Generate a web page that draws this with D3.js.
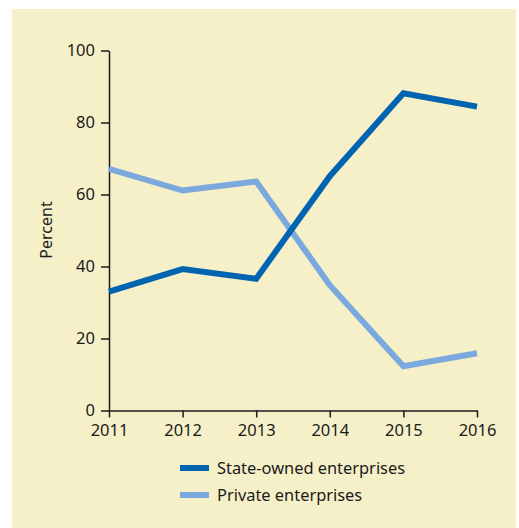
<!DOCTYPE html>
<html><head><meta charset="utf-8">
<script src="https://cdn.jsdelivr.net/npm/d3@7"></script>
<style>body{margin:0;background:#fff;}svg{display:block;}text{font-family:"Noto Sans",sans-serif;fill:#1a1a1a;}</style>
</head><body>
<script>
const years = [2011, 2012, 2013, 2014, 2015, 2016];
const stateOwned = [33.0, 39.3, 36.6, 65.1, 88.1, 84.4];
const privateEnt = [67.1, 61.1, 63.6, 34.8, 12.3, 15.9];
const yTicks = [0, 20, 40, 60, 80, 100];
const seriesNames = ["State-owned enterprises", "Private enterprises"];
const seriesColors = ["#0064b1", "#7ba8dd"];

const W = 519, H = 528;
const svg = d3.select("body").append("svg").attr("width", W).attr("height", H);
svg.append("rect").attr("x", 12).attr("y", 9).attr("width", 504).attr("height", 519).attr("fill", "#f6f0c9");

const x = d3.scaleLinear().domain([2011, 2016]).range([109, 477]);
const y = d3.scaleLinear().domain([0, 100]).range([410.5, 50.5]);

const yAxis = svg.append("g").attr("transform", "translate(109,0)")
  .call(d3.axisLeft(y).tickValues(yTicks).tickSize(8).tickPadding(6).tickSizeOuter(0));
const xAxis = svg.append("g").attr("transform", "translate(0,410.5)")
  .call(d3.axisBottom(x).tickValues(years).tickFormat(d3.format("d")).tickSize(7).tickPadding(7).tickSizeOuter(0));
[yAxis, xAxis].forEach(g => {
  g.selectAll("path").attr("stroke", "#1a1a1a").attr("stroke-width", 1.5);
  g.selectAll("line").attr("stroke", "#1a1a1a").attr("stroke-width", 1.5);
  g.selectAll("text").style("font-size", "16.5px").attr("fill", "#1a1a1a").style("font-family", '"Noto Sans",sans-serif');
});

svg.append("text").attr("transform", "translate(52,230) rotate(-90)")
  .attr("text-anchor", "middle").style("font-size", "16px").text("Percent");

const line = d3.line().x((d, i) => x(years[i])).y(d => y(d));
[[privateEnt, seriesColors[1]], [stateOwned, seriesColors[0]]].forEach(([data, c]) => {
  svg.append("path").datum(data).attr("d", line).attr("fill", "none")
    .attr("stroke", c).attr("stroke-width", 6).attr("stroke-linejoin", "miter");
});

const leg = svg.append("g");
seriesNames.forEach((n, i) => {
  const yy = 468 + i * 27;
  leg.append("line").attr("x1", 180).attr("x2", 209).attr("y1", yy).attr("y2", yy)
    .attr("stroke", seriesColors[i]).attr("stroke-width", 6);
  leg.append("text").attr("x", 217).attr("y", yy).attr("dy", "0.35em")
    .style("font-size", "16.4px").text(n);
});
</script>
</body></html>
